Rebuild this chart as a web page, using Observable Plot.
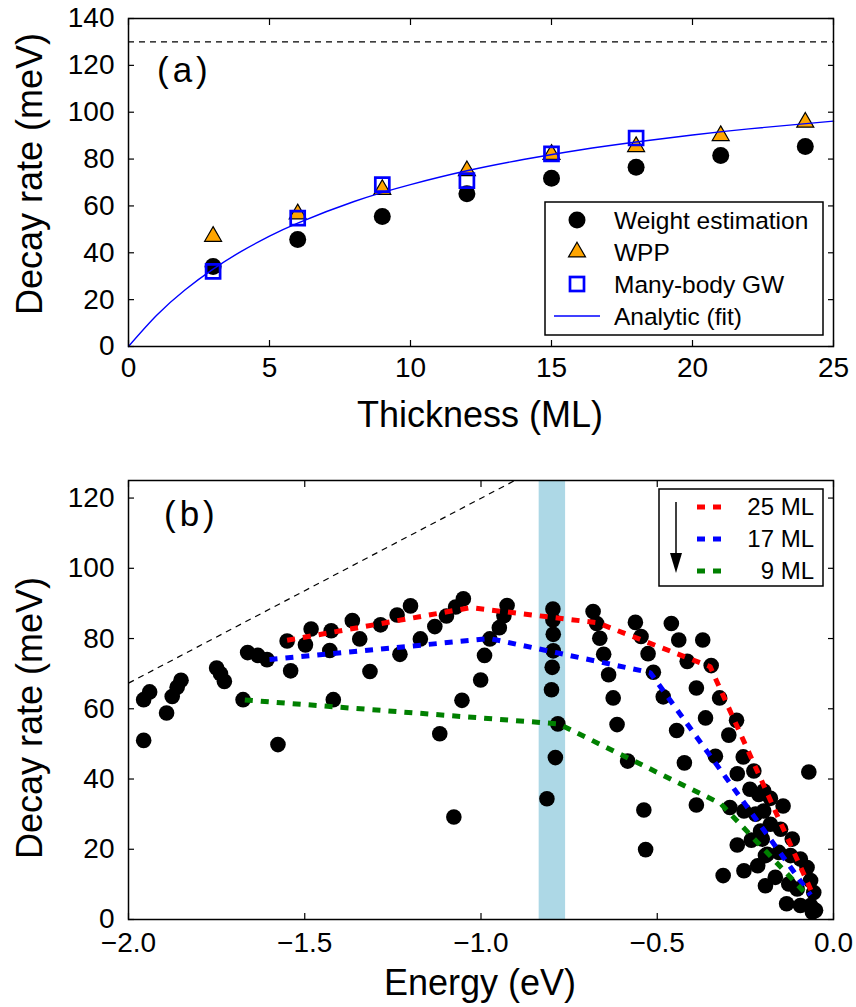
<!DOCTYPE html>
<html><head><meta charset="utf-8">
<script src="https://cdn.jsdelivr.net/npm/d3@7"></script>
<script src="https://cdn.jsdelivr.net/npm/@observablehq/plot@0.6"></script>
<style>
body{margin:0;background:#fff;}
#wrap{position:relative;width:856px;height:1007px;}
#wrap svg{display:block;}
</style></head><body><div id="wrap"></div>
<script>
// ---------- Panel (a) data ----------
const thickness = [3, 6, 9, 12, 15, 18, 21, 24];
const weightEst = [34.1, 45.7, 55.5, 65.2, 71.8, 76.5, 81.5, 85.4];
const wppRate   = [47.0, 56.6, 67.0, 75.0, 82.0, 85.3, 90.0, 95.7];
const gwThick   = [3, 6, 9, 12, 15, 18];
const gwRate    = [32.1, 54.8, 69.1, 70.8, 82.2, 89.0];
const fitThick  = [0, 1, 2, 3, 4, 5, 6, 8, 10, 12, 14, 16, 18, 20, 22, 25];
const fitRate   = [0, 13.3, 24.1, 33.0, 40.6, 47.1, 52.7, 61.9, 69.1, 75.0, 79.8, 83.9, 87.3, 90.3, 92.9, 96.2];
const limitRate = [130];
const xTicksA = [0, 5, 10, 15, 20, 25];
const yTicksA = [0, 20, 40, 60, 80, 100, 120, 140];
const legendA = ["Weight estimation", "WPP", "Many-body GW", "Analytic (fit)"];

// ---------- Panel (b) data ----------
const scatterB = [
 [-1.957,62.6],[-1.940,64.8],[-1.957,51.0],[-1.892,58.8],[-1.876,63.5],[-1.862,66.1],[-1.851,68.1],
 [-1.750,71.6],[-1.739,70.0],[-1.728,67.8],[-1.675,62.6],[-1.662,76.0],[-1.633,75.2],[-1.607,74.0],
 [-1.576,49.8],[-1.550,79.3],[-1.540,70.8],[-1.498,78.2],[-1.482,82.7],[-1.429,76.6],[-1.425,82.2],
 [-1.419,62.6],[-1.365,85.1],[-1.344,79.9],[-1.315,70.6],[-1.285,83.9],[-1.238,86.7],[-1.230,75.5],
 [-1.200,89.3],[-1.172,79.9],[-1.131,83.4],[-1.098,86.4],[-1.072,89.0],[-1.050,91.3],[-1.054,62.4],
 [-1.117,52.9],[-1.077,29.2],[-1.001,68.2],[-0.990,75.2],[-0.975,79.9],[-0.948,83.1],[-0.935,86.5],
 [-0.926,89.4],[-0.796,88.4],[-0.796,85.3],[-0.795,81.2],[-0.795,76.5],[-0.798,71.8],[-0.800,65.4],
 [-0.782,55.7],[-0.789,46.1],[-0.813,34.4],[-0.682,87.7],[-0.672,84.3],[-0.663,80.1],[-0.652,75.5],
 [-0.638,69.7],[-0.625,63.1],[-0.614,55.5],[-0.584,45.1],[-0.562,84.6],[-0.546,80.6],[-0.526,75.7],
 [-0.511,70.4],[-0.483,63.4],[-0.538,31.2],[-0.533,19.9],[-0.460,84.3],[-0.439,79.6],[-0.415,73.5],
 [-0.389,65.9],[-0.363,57.4],[-0.445,53.8],[-0.423,44.6],[-0.389,32.6],[-0.371,79.6],[-0.347,72.3],
 [-0.323,63.1],[-0.275,56.7],[-0.297,52.5],[-0.335,46.5],[-0.256,46.3],[-0.273,41.5],[-0.226,42.3],
 [-0.237,37.1],[-0.198,36.6],[-0.294,31.9],[-0.254,30.9],[-0.221,30.0],[-0.198,30.9],[-0.273,21.2],
 [-0.233,22.6],[-0.207,25.2],[-0.313,12.5],[-0.254,13.9],[-0.215,15.3],[-0.193,18.2],[-0.193,9.6],
 [-0.070,42.0],[-0.212,35.6],[-0.179,34.5],[-0.143,32.3],[-0.179,27.1],[-0.150,25.7],[-0.117,22.9],
 [-0.202,22.9],[-0.188,18.6],[-0.155,19.1],[-0.122,18.2],[-0.094,17.2],[-0.075,14.8],[-0.165,12.0],
 [-0.127,10.1],[-0.103,8.7],[-0.065,11.1],[-0.056,7.7],[-0.133,4.5],[-0.094,4.0],[-0.065,4.0],
 [-0.060,2.1],[-0.051,2.6]
];
const line25 = [[-1.55,79.5],[-1.03,88.8],[-0.67,84.5],[-0.35,72.0],[-0.06,7.5]];
const line17 = [[-1.60,74.0],[-0.975,80.0],[-0.52,70.3],[-0.065,7.0]];
const line9  = [[-1.67,62.5],[-0.78,55.7],[-0.32,33.0],[-0.07,6.5]];
const diagLine = [[-2.0,67.3],[-0.904,125]];
const bandE = [-0.835, -0.76];
const xTicksB = [-2.0, -1.5, -1.0, -0.5, 0.0];
const yTicksB = [0, 20, 40, 60, 80, 100, 120];
const legendB = ["25 ML", "17 ML", "9 ML"];
const colorsB = ["#ff0000", "#0000ff", "#008000"];

const FONT = "'Liberation Sans', Arial, sans-serif";
const DASH = "8,8";

function frameMarks(xt, yt, xfmt, yfmt, xpad) {
  const blank = () => "";
  return [
    Plot.axisX(xt, {anchor: "bottom", tickSize: 6, dy: -6, tickFormat: blank, label: null, strokeWidth: 1.2}),
    Plot.axisX(xt, {anchor: "top", tickSize: 6, dy: 6, tickFormat: blank, label: null, strokeWidth: 1.2}),
    Plot.axisY(yt, {anchor: "left", tickSize: 6, dx: 6, tickFormat: blank, label: null, strokeWidth: 1.2}),
    Plot.axisY(yt, {anchor: "right", tickSize: 6, dx: -6, tickFormat: blank, label: null, strokeWidth: 1.2}),
    Plot.axisX(xt, {anchor: "bottom", tickSize: 0, tickPadding: xpad, tickFormat: xfmt, label: null, fontSize: 28, fill: "black"}),
    Plot.axisY(yt, {anchor: "left", tickSize: 0, tickPadding: 14, tickFormat: yfmt, label: null, fontSize: 28, fill: "black"}),
    Plot.frame({stroke: "black", strokeWidth: 1.5})
  ];
}

const styleObj = {fontFamily: FONT, fontSize: "28px", background: "white", overflow: "visible", color: "black"};

// ---------- Panel (a) ----------
const weightData = thickness.map((t, i) => ({t, v: weightEst[i]}));
const wppData = thickness.map((t, i) => ({t, v: wppRate[i]}));
const gwData = gwThick.map((t, i) => ({t, v: gwRate[i]}));
const fitData = fitThick.map((t, i) => ({t, v: fitRate[i]}));

const svgA = Plot.plot({
  width: 856, height: 440,
  marginLeft: 128, marginRight: 23, marginTop: 18, marginBottom: 94,
  style: styleObj,
  x: {domain: [0, 25]},
  y: {domain: [0, 140]},
  marks: [
    Plot.ruleY(limitRate, {stroke: "black", strokeWidth: 1.2, strokeDasharray: "6,5", strokeLinecap: "butt"}),
    Plot.dot(weightData, {x: "t", y: "v", r: 8.5, fill: "black"}),
    Plot.dot(wppData, {x: "t", y: "v", symbol: "triangle", r: 6.3, fill: "#ffa500", stroke: "black", strokeWidth: 1.2}),
    Plot.dot(gwData, {x: "t", y: "v", symbol: "square", r: 7.9, fill: "none", stroke: "#0000ff", strokeWidth: 2.7}),
    Plot.line(fitData, {x: "t", y: "v", stroke: "#0000ff", strokeWidth: 1.4, curve: "natural"}),
    ...frameMarks(xTicksA, yTicksA, d => String(d), d => String(d), 11)
  ]
});

// ---------- Panel (b) ----------
const scatterData = scatterB.map(([e, v]) => ({e, v}));
const toObj = arr => arr.map(([e, v]) => ({e, v}));
const dashOpts = {x: "e", y: "v", strokeWidth: 5, strokeDasharray: DASH, strokeLinecap: "butt", strokeLinejoin: "miter"};

const svgB = Plot.plot({
  width: 856, height: 567,
  marginLeft: 128, marginRight: 23, marginTop: 40, marginBottom: 88,
  style: styleObj,
  x: {domain: [-2, 0]},
  y: {domain: [0, 125]},
  marks: [
    Plot.rect([{x1: bandE[0], x2: bandE[1]}], {x1: "x1", x2: "x2", fill: "#add8e6"}),
    Plot.line(toObj(diagLine), {x: "e", y: "v", stroke: "black", strokeWidth: 1.2, strokeDasharray: "6,5", strokeLinecap: "butt", clip: true}),
    Plot.dot(scatterData, {x: "e", y: "v", r: 7.8, fill: "black"}),
    Plot.line(toObj(line25), {...dashOpts, stroke: colorsB[0]}),
    Plot.line(toObj(line17), {...dashOpts, stroke: colorsB[1]}),
    Plot.line(toObj(line9),  {...dashOpts, stroke: colorsB[2]}),
    ...frameMarks(xTicksB, yTicksB, d => d.toFixed(1).replace("-", "\u2212"), d => String(d), 13)
  ]
});

const wrap = document.getElementById("wrap");
wrap.appendChild(svgA);
wrap.appendChild(svgB);

function addText(svg, x, y, txt, opts = {}) {
  const t = d3.select(svg).append("text")
    .attr("x", x).attr("y", y)
    .attr("font-family", FONT)
    .attr("font-size", opts.size || 36)
    .attr("fill", "black")
    .attr("text-anchor", opts.anchor || "start")
    .text(txt);
  if (opts.rotate) t.attr("transform", `rotate(-90,${x},${y})`);
  if (opts.spacing) t.attr("letter-spacing", opts.spacing);
  if (opts.dy) t.attr("dy", opts.dy);
  return t;
}

// Panel (a) texts
addText(svgA, 157, 82, "(a)", {size: 35, spacing: "4px"});
addText(svgA, 480, 427, "Thickness (ML)", {anchor: "middle", size: 36});
addText(svgA, 42, 174, "Decay rate (meV)", {anchor: "middle", size: 36, rotate: true});

// Panel (a) legend
{
  const g = d3.select(svgA).append("g");
  g.append("rect").attr("x", 545).attr("y", 202).attr("width", 278).attr("height", 133)
    .attr("fill", "white").attr("stroke", "black").attr("stroke-width", 1.5);
  const rows = [220, 252, 284, 316];
  const mx = 577;
  g.append("circle").attr("cx", mx).attr("cy", rows[0]).attr("r", 8.5).attr("fill", "black");
  g.append("path").attr("transform", `translate(${mx},${rows[1]})`)
    .attr("d", d3.symbol(d3.symbolTriangle, Math.PI * 6.3 * 6.3)())
    .attr("fill", "#ffa500").attr("stroke", "black").attr("stroke-width", 1.2);
  g.append("rect").attr("x", mx - 7).attr("y", rows[2] - 7).attr("width", 14).attr("height", 14)
    .attr("fill", "none").attr("stroke", "#0000ff").attr("stroke-width", 2.7);
  g.append("line").attr("x1", 554).attr("x2", 600).attr("y1", rows[3]).attr("y2", rows[3])
    .attr("stroke", "#0000ff").attr("stroke-width", 1.4);
  legendA.forEach((s, i) => addText(svgA, 614, rows[i], s, {size: 24.5, dy: "0.35em"}));
}

// Panel (b) texts
addText(svgB, 164, 86, "(b)", {size: 35, spacing: "4px"});
addText(svgB, 480, 555, "Energy (eV)", {anchor: "middle", size: 36});
addText(svgB, 42, 278, "Decay rate (meV)", {anchor: "middle", size: 36, rotate: true});

// Panel (b) legend
{
  const g = d3.select(svgB).append("g");
  g.append("rect").attr("x", 659).attr("y", 49).attr("width", 164).attr("height", 97)
    .attr("fill", "white").attr("stroke", "black").attr("stroke-width", 1.5);
  g.append("line").attr("x1", 676).attr("x2", 676).attr("y1", 62).attr("y2", 116)
    .attr("stroke", "black").attr("stroke-width", 1.5);
  g.append("path").attr("d", "M670,113 L682,113 L676,133 Z").attr("fill", "black");
  const rows = [67, 99, 131];
  rows.forEach((y, i) => {
    g.append("line").attr("x1", 697).attr("x2", 729).attr("y1", y).attr("y2", y)
      .attr("stroke", colorsB[i]).attr("stroke-width", 5).attr("stroke-dasharray", DASH);
    addText(svgB, 814, y, legendB[i], {size: 24, anchor: "end", dy: "0.35em"});
  });
}
</script></body></html>
